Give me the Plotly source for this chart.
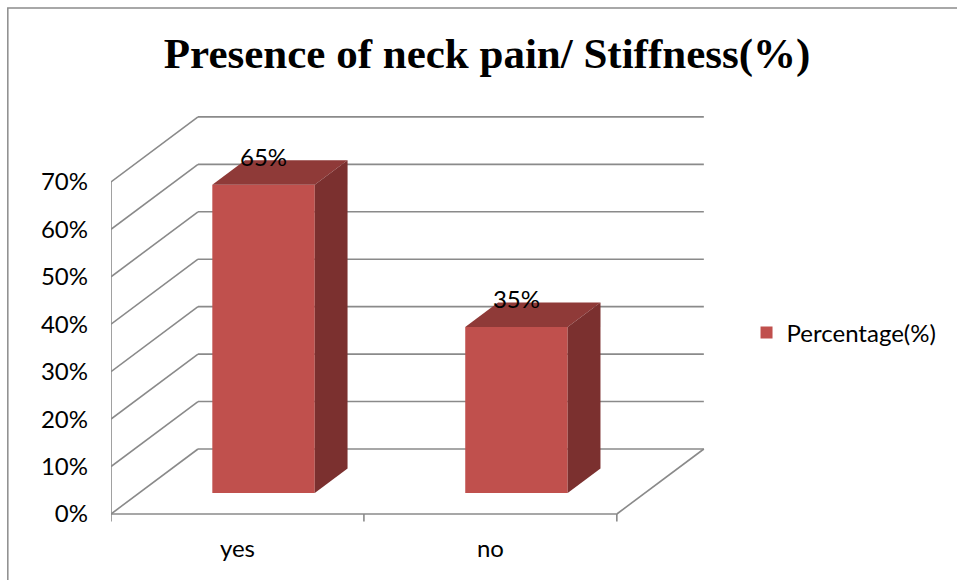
import plotly.graph_objects as go

# ---- data -------------------------------------------------------------
categories = ["yes", "no"]
percentages = [65, 35]
tick_values = [0, 10, 20, 30, 40, 50, 60, 70]
tick_labels = ["0%", "10%", "20%", "30%", "40%", "50%", "60%", "70%"]
series_name = "Percentage(%)"
chart_title = "Presence of neck pain/ Stiffness(%)"

# ---- 3-D look (oblique projection) -----------------------------------
DX = 0.344          # depth shift along x (category units)
DY = 13.7           # depth shift along y (percentage units)
D_FRONT, D_BACK = 0.323, 0.70   # depth span occupied by the bars
BAR_W = 0.405
BAR_SHIFT = -0.008

FRONT = "#C0504D"
TOP = "#8F3A38"
SIDE = "#7B302F"
GRID = "#8A8A8A"
FONT = "Lato"

n = len(categories)
centers = [i + 0.5 for i in range(n)]
ymax = max(tick_values)

shapes = []


def seg(x0, y0, x1, y1, width=1.6):
    shapes.append(dict(type="line", xref="x", yref="y", x0=x0, y0=y0, x1=x1, y1=y1,
                       line=dict(color=GRID, width=width), layer="below"))


# back wall gridlines and left wall diagonals
for v in tick_values:
    seg(DX, v + DY, n + DX, v + DY)
    seg(0, v, DX, v + DY)
# front value axis, floor front edge and floor right edge
seg(0, 0, 0, ymax)
seg(0, 0, n, 0)
seg(n, 0, n + DX, DY)
# value-axis ticks and category boundary ticks
for v in tick_values:
    seg(-0.022, v, 0, v)
for b in range(n + 1):
    seg(b, 0, b, -1.6)

# outer frame of the chart
shapes.append(dict(type="path", xref="paper", yref="paper",
                   path="M -0.170,-0.2 L -0.170,1.2345 L 1.5,1.2345",
                   line=dict(color="#8C8C8C", width=1.5), layer="below"))

fig = go.Figure()

bar_x = [c + BAR_SHIFT for c in centers]

# front faces
fig.add_trace(go.Bar(
    x=[c + D_FRONT * DX for c in bar_x], y=percentages,
    base=[D_FRONT * DY] * n, width=BAR_W,
    marker=dict(color=FRONT, line=dict(width=0)),
    name=series_name, showlegend=True, hoverinfo="skip",
))

# top and side faces
for c, v in zip(bar_x, percentages):
    xl, xr = c - BAR_W / 2, c + BAR_W / 2
    f0x, f1x = D_FRONT * DX, D_BACK * DX
    f0y, f1y = D_FRONT * DY, D_BACK * DY
    fig.add_trace(go.Scatter(
        x=[xl + f0x, xr + f0x, xr + f1x, xl + f1x, xl + f0x],
        y=[v + f0y, v + f0y, v + f1y, v + f1y, v + f0y],
        fill="toself", fillcolor=TOP, mode="lines", line=dict(width=0, color=TOP),
        showlegend=False, hoverinfo="skip"))
    fig.add_trace(go.Scatter(
        x=[xr + f0x, xr + f1x, xr + f1x, xr + f0x, xr + f0x],
        y=[f0y, f1y, v + f1y, v + f0y, f0y],
        fill="toself", fillcolor=SIDE, mode="lines", line=dict(width=0, color=SIDE),
        showlegend=False, hoverinfo="skip"))

# value labels
fig.add_trace(go.Scatter(
    x=[c + D_FRONT * DX for c in bar_x],
    y=[v + D_BACK * DY for v in percentages],
    text=[f"{v}%" for v in percentages], mode="text",
    textposition="middle center",
    textfont=dict(family=FONT, size=24, color="#000000"),
    showlegend=False, hoverinfo="skip", cliponaxis=False))

fig.update_layout(
    width=957, height=580,
    margin=dict(l=111, r=239, t=106, b=56),
    paper_bgcolor="white", plot_bgcolor="white",
    shapes=shapes,
    title=dict(text=chart_title, xref="container", yref="container",
               x=0.509, y=0.908, xanchor="center", yanchor="middle",
               font=dict(family="Liberation Serif", size=43, color="#000000",
                         weight="bold")),
    xaxis=dict(range=[0, 2.4], tickvals=centers, ticktext=categories,
               showgrid=False, zeroline=False, showline=False, ticks="",
               tickfont=dict(family=FONT, size=24, color="#000000"),
               ticklabelstandoff=8, fixedrange=True),
    yaxis=dict(range=[-2.11, 86.0], tickvals=tick_values, ticktext=tick_labels,
               showgrid=False, zeroline=False, showline=False, ticks="",
               tickfont=dict(family=FONT, size=24, color="#000000"),
               ticklabelstandoff=22, fixedrange=True),
    legend=dict(x=1.047, y=0.457, xanchor="left", yanchor="middle",
                font=dict(family=FONT, size=24, color="#000000"),
                bgcolor="rgba(0,0,0,0)"),
    showlegend=True,
)

fig.write_html("out.html")
